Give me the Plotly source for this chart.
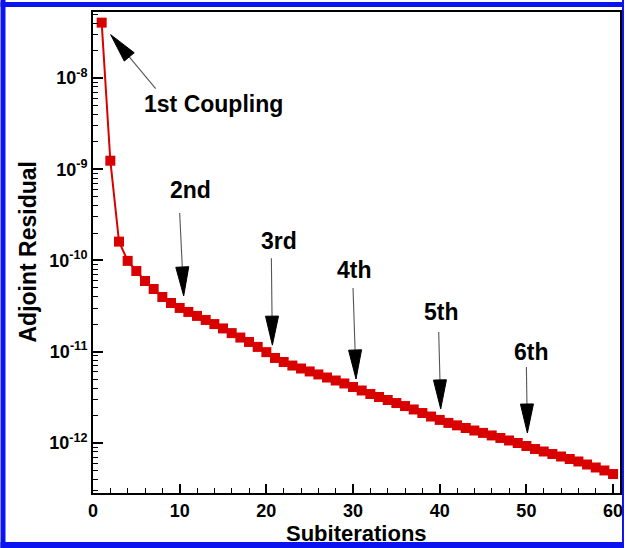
import math
import plotly.graph_objects as go

# Adjoint residual history over the coupled subiterations
subiterations = list(range(1, 61))
residual = [
    4.04e-8, 1.24e-9, 1.61e-10, 9.9e-11, 7.67e-11, 5.96e-11, 4.87e-11, 3.98e-11, 3.42e-11, 3.02e-11,
    2.73e-11, 2.47e-11, 2.23e-11, 2.01e-11, 1.80e-11, 1.60e-11, 1.43e-11, 1.28e-11, 1.13e-11, 9.9e-12,
    8.55e-12, 7.72e-12, 7.06e-12, 6.55e-12, 6.08e-12, 5.64e-12, 5.22e-12, 4.84e-12, 4.49e-12, 4.11e-12,
    3.76e-12, 3.44e-12, 3.19e-12, 2.96e-12, 2.74e-12, 2.54e-12, 2.33e-12, 2.13e-12, 1.95e-12, 1.79e-12,
    1.66e-12, 1.56e-12, 1.46e-12, 1.37e-12, 1.29e-12, 1.21e-12, 1.135e-12, 1.065e-12, 1.0e-12, 9.27e-13,
    8.59e-13, 8.07e-13, 7.57e-13, 7.11e-13, 6.68e-13, 6.27e-13, 5.81e-13, 5.39e-13, 5.0e-13, 4.57e-13,
]

# Coupling events marked with arrows
coupling_labels = ["1st Coupling", "2nd", "3rd", "4th", "5th", "6th"]
coupling_iters = [1, 10, 20, 30, 40, 50]

# Tick labels
x_ticks = [0, 10, 20, 30, 40, 50, 60]
y_exponents = [-8, -9, -10, -11, -12]

# Figure geometry (pixels)
W, H = 627, 548
ML, MR, MT, MB = 93, 4, 12, 55
PW, PH = W - ML - MR, H - MT - MB

# Arrow styling offsets in screen pixels (dx right, dy down) relative to the marked point
arrow_style = [
    dict(tip=(9, 12), tail=(54, 66), text=(112, 81)),
    dict(tip=(4, -12), tail=(0, -95), text=(11, -118)),
    dict(tip=(6, -7), tail=(5, -94), text=(13, -111)),
    dict(tip=(3, -8), tail=(0, -99), text=(1, -117)),
    dict(tip=(1, -11), tail=(-1, -88), text=(2, -108)),
    dict(tip=(1, -13), tail=(0, -79), text=(5, -94)),
]
HEAD_LEN, HEAD_HALF = 29, 6.5

RED = "#d90000"
FONT = "Liberation Sans, Arial, sans-serif"

fig = go.Figure()
fig.add_trace(go.Scatter(
    x=subiterations, y=residual, mode="lines+markers",
    line=dict(color=RED, width=2),
    marker=dict(symbol="square", size=10, color=RED, line=dict(width=0)),
    showlegend=False, hoverinfo="x+y",
))

shapes = []
annotations = []
for label, it, st in zip(coupling_labels, coupling_iters, arrow_style):
    yv = residual[it - 1]
    tx, ty = st["tip"]
    lx, ly = st["tail"]
    dx, dy = tx - lx, ty - ly
    n = math.hypot(dx, dy)
    ux, uy = dx / n, dy / n
    bx, by = tx - HEAD_LEN * ux, ty - HEAD_LEN * uy
    px, py = -uy * HEAD_HALF, ux * HEAD_HALF
    # shaft (pixel offsets anchored on the data point; path y is positive upward)
    shapes.append(dict(
        type="path", xref="x", yref="y",
        xsizemode="pixel", ysizemode="pixel", xanchor=it, yanchor=yv,
        path="M {:.2f},{:.2f} L {:.2f},{:.2f}".format(lx, -ly, bx, -by),
        line=dict(color="#555555", width=1.1),
    ))
    # arrow head
    path = "M {:.2f},{:.2f} L {:.2f},{:.2f} L {:.2f},{:.2f} Z".format(
        tx, -ty, bx + px, -(by + py), bx - px, -(by - py))
    shapes.append(dict(
        type="path", xref="x", yref="y",
        xsizemode="pixel", ysizemode="pixel", xanchor=it, yanchor=yv,
        path=path, fillcolor="black", line=dict(color="black", width=1),
    ))
    ox, oy = st["text"]
    annotations.append(dict(
        x=it, y=math.log10(yv), xref="x", yref="y", text="<b>%s</b>" % label,
        showarrow=False, xshift=ox, yshift=-oy, xanchor="center", yanchor="middle",
        font=dict(family=FONT, size=23, color="black"),
    ))

# axis titles
annotations.append(dict(
    x=0.5, y=0, xref="paper", yref="paper", text="<b>Subiterations</b>", showarrow=False,
    xanchor="center", yanchor="middle", yshift=-40,
    font=dict(family=FONT, size=22, color="black"),
))
annotations.append(dict(
    x=0, y=0.5, xref="paper", yref="paper", text="<b>Adjoint Residual</b>", showarrow=False,
    textangle=-90, xanchor="center", yanchor="middle", xshift=-66,
    font=dict(family=FONT, size=23, color="black"),
))

# blue frame around the whole figure
def px2paper_x(p):
    return (p - ML) / PW

def px2paper_y(p):
    return (H - MB - p) / PH

BLUE = "#0a14f0"
for (x0, y0, x1, y1) in [(0, 0, 5, H), (0, 2, W, 7), (W - 2, 0, W, H), (0, 542, W, H)]:
    shapes.append(dict(
        type="rect", xref="paper", yref="paper",
        x0=px2paper_x(x0), x1=px2paper_x(x1), y0=px2paper_y(y1), y1=px2paper_y(y0),
        fillcolor=BLUE, line=dict(width=0), layer="above",
    ))

fig.update_layout(
    width=W, height=H,
    margin=dict(l=ML, r=MR, t=MT, b=MB, pad=0),
    paper_bgcolor="white", plot_bgcolor="white",
    font=dict(family=FONT, color="black"),
    shapes=shapes, annotations=annotations,
    xaxis=dict(
        range=[0, 60.8], tickvals=x_ticks, ticktext=["<b>%d</b>" % v for v in x_ticks],
        ticks="inside", ticklen=9, tickwidth=2, tickcolor="black",
        minor=dict(ticks="inside", dtick=2, ticklen=5, tickwidth=1, tickcolor="black", showgrid=False),
        showline=True, linecolor="black", linewidth=2, mirror=True,
        showgrid=False, zeroline=False,
        tickfont=dict(family=FONT, size=18, color="black"),
    ),
    yaxis=dict(
        type="log", range=[-12.548, -7.277],
        tickvals=[10.0 ** e for e in y_exponents],
        ticktext=["<b>10<sup>%d</sup></b>" % e for e in y_exponents],
        ticks="inside", ticklen=10, tickwidth=2, tickcolor="black",
        minor=dict(ticks="inside", dtick="D1", ticklen=5, tickwidth=1, tickcolor="black", showgrid=False),
        showline=True, linecolor="black", linewidth=2, mirror=True,
        showgrid=False, zeroline=False,
        tickfont=dict(family=FONT, size=18, color="black"),
    ),
)

fig.write_html("out.html")
